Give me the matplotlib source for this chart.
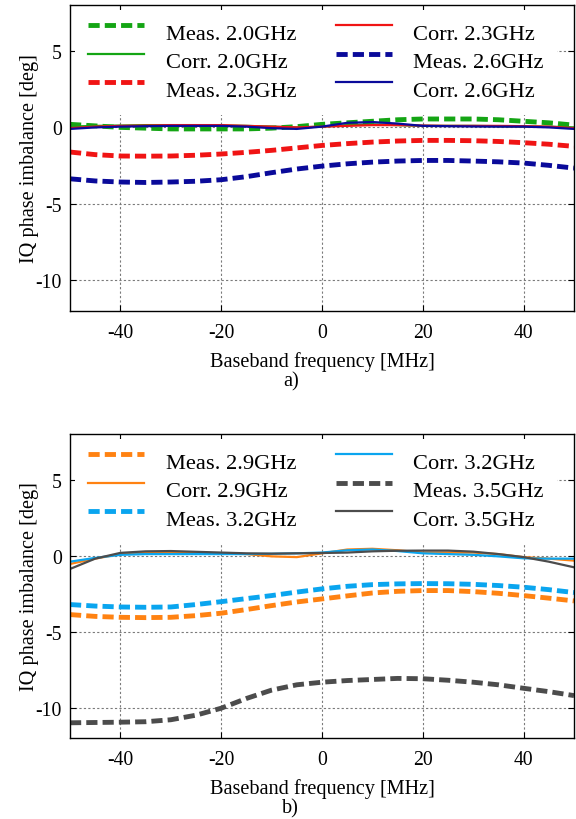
import matplotlib
matplotlib.use("Agg")
import matplotlib.pyplot as plt
from matplotlib.transforms import Affine2D

plt.rcParams['font.family'] = ['Liberation Serif', 'DejaVu Serif']
plt.rcParams['axes.unicode_minus'] = False

freq = [-50, -45, -40, -35, -30, -25, -20, -15, -10, -5, 0, 5, 10, 15, 20, 25, 30, 35, 40, 45, 50]

# ---- panel a) ----
meas_20 = [0.2, 0.1, 0.0, -0.05, -0.1, -0.1, -0.1, -0.1, -0.05, 0.05, 0.2, 0.3, 0.4, 0.5, 0.55, 0.55, 0.55, 0.5, 0.4, 0.3, 0.15]
corr_20 = [0.05, 0.1, 0.12, 0.15, 0.15, 0.15, 0.12, 0.1, 0.05, 0.0, 0.05, 0.15, 0.2, 0.15, 0.1, 0.1, 0.1, 0.08, 0.05, 0.05, 0.0]
meas_23 = [-1.61, -1.78, -1.87, -1.88, -1.87, -1.82, -1.74, -1.63, -1.5, -1.34, -1.18, -1.06, -0.96, -0.89, -0.85, -0.85, -0.87, -0.92, -1.0, -1.1, -1.24]
corr_23 = [-0.05, 0.05, 0.1, 0.12, 0.15, 0.15, 0.15, 0.1, 0.05, 0.0, 0.05, 0.1, 0.15, 0.15, 0.12, 0.1, 0.1, 0.1, 0.08, 0.05, -0.05]
meas_26 = [-3.36, -3.5, -3.57, -3.6, -3.57, -3.52, -3.42, -3.22, -2.96, -2.72, -2.53, -2.38, -2.27, -2.2, -2.16, -2.16, -2.2, -2.25, -2.33, -2.48, -2.66]
corr_26 = [-0.1, 0.0, 0.05, 0.08, 0.1, 0.1, 0.1, 0.05, -0.05, -0.1, 0.05, 0.3, 0.35, 0.25, 0.1, 0.08, 0.06, 0.05, 0.05, 0.0, -0.1]

# ---- panel b) ----
meas_29 = [-3.88, -4.0, -4.06, -4.08, -4.06, -3.95, -3.79, -3.55, -3.29, -3.05, -2.85, -2.65, -2.46, -2.35, -2.3, -2.3, -2.37, -2.48, -2.63, -2.8, -2.98]
corr_29 = [-0.55, -0.2, 0.1, 0.18, 0.2, 0.2, 0.15, 0.1, -0.05, -0.1, 0.15, 0.4, 0.45, 0.35, 0.2, 0.2, 0.2, 0.1, -0.1, -0.2, -0.33]
meas_32 = [-3.22, -3.32, -3.38, -3.4, -3.38, -3.22, -3.03, -2.83, -2.63, -2.4, -2.19, -2.02, -1.91, -1.86, -1.84, -1.85, -1.89, -1.97, -2.08, -2.24, -2.43]
corr_32 = [-0.4, -0.15, 0.05, 0.1, 0.1, 0.1, 0.1, 0.1, 0.12, 0.15, 0.2, 0.35, 0.4, 0.3, 0.15, 0.1, 0.05, -0.05, -0.18, -0.2, -0.2]
meas_35 = [-11.0, -10.98, -10.96, -10.93, -10.8, -10.5, -10.04, -9.4, -8.85, -8.5, -8.33, -8.22, -8.15, -8.08, -8.1, -8.2, -8.33, -8.5, -8.73, -8.95, -9.21]
corr_35 = [-0.88, -0.2, 0.18, 0.28, 0.3, 0.25, 0.2, 0.15, 0.13, 0.15, 0.17, 0.2, 0.28, 0.32, 0.33, 0.33, 0.26, 0.1, -0.1, -0.4, -0.77]

xticks = [-40, -20, 0, 20, 40]
yticks = [-10, -5, 0, 5]

GREEN = '#14a514'
RED = '#f01414'
NAVY = '#0a0a9a'
ORANGE = '#ff8212'
LBLUE = '#0aa5ef'
GRAY = '#4c4c4c'

FS_TICK = 14.2
FS_LAB = 14.6
FS_LEG = 16.2
fig = plt.figure(figsize=(5.76, 8.2), dpi=100)
ax1 = fig.add_axes([70/576, 1-312/820, 504/576, 306/820])
ax2 = fig.add_axes([70/576, 1-739/820, 504/576, 304/820])

def series(ax, specs):
    for y, color, dashed, label in specs:
        if dashed:
            ax.plot(freq, y, color=color, lw=3.5, dashes=(2.3, 1.05), label=label,
                    dash_capstyle='butt')
        else:
            ax.plot(freq, y, color=color, lw=1.6, label=label)

series(ax1, [
    (meas_20, GREEN, True, 'Meas. 2.0GHz'),
    (corr_20, GREEN, False, 'Corr. 2.0GHz'),
    (meas_23, RED, True, 'Meas. 2.3GHz'),
    (corr_23, RED, False, 'Corr. 2.3GHz'),
    (meas_26, NAVY, True, 'Meas. 2.6GHz'),
    (corr_26, NAVY, False, 'Corr. 2.6GHz'),
])
series(ax2, [
    (meas_29, ORANGE, True, 'Meas. 2.9GHz'),
    (corr_29, ORANGE, False, 'Corr. 2.9GHz'),
    (meas_32, LBLUE, True, 'Meas. 3.2GHz'),
    (corr_32, LBLUE, False, 'Corr. 3.2GHz'),
    (meas_35, GRAY, True, 'Meas. 3.5GHz'),
    (corr_35, GRAY, False, 'Corr. 3.5GHz'),
])

for ax, cap, capy in [(ax1, 'a)', 1-382/820), (ax2, 'b)', 1-809/820)]:
    ax.set_xlim(-50, 50)
    ax.set_ylim(-12, 8)
    ax.set_xticks(xticks)
    ax.set_yticks(yticks)
    ax.grid(True, linestyle=(0, (2, 2)), color='#7a7a7a', lw=0.8)
    ax.tick_params(direction='in', top=True, right=True, length=4, width=0.8,
                   labelsize=FS_TICK)
    ax.tick_params(axis='x', pad=9)
    ax.tick_params(axis='y', pad=6)
    for s in ax.spines.values():
        s.set_linewidth(1.0)
    ax.set_xlabel('Baseband frequency [MHz]', fontsize=FS_LAB, labelpad=6)
    ax.set_ylabel('IQ phase imbalance [deg]', fontsize=FS_LAB)
    ax.yaxis.set_label_coords(-0.062, 0.5)
    leg = ax.legend(ncol=2, loc='upper left', bbox_to_anchor=(0.0, 1.0),
                    fontsize=FS_LEG, frameon=True, fancybox=False, framealpha=1.0,
                    edgecolor='none', facecolor='white', handlelength=2.5,
                    handletextpad=0.95, columnspacing=1.75, labelspacing=0.35,
                    borderpad=0.6, borderaxespad=0.2)
    leg.set_zorder(5)
    for ln in leg.get_lines():
        ln.set_transform(ln.get_transform() + Affine2D().translate(0, 6))
    fig.text(0.505, capy, cap, ha='center', va='center', fontsize=FS_LAB)

fig.savefig('out.png', dpi=100)
